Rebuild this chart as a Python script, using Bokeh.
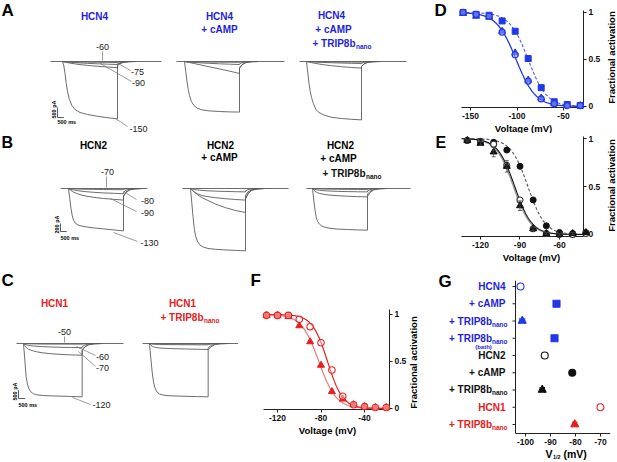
import numpy as np
from bokeh.plotting import figure
from bokeh.layouts import column, row
from bokeh.models import (Range1d, FixedTicker, PrintfTickFormatter, LinearAxis,
                          ColumnDataSource, Whisker, TeeHead)
from bokeh.core.properties import value
from bokeh.embed import file_html
from bokeh.resources import INLINE

FONT = "Liberation Sans"
BLUE = "#1f1fdc"
BLUE_M = "#2238e6"
RED = "#e62020"
RED_L = "#f07878"
BLACK = "#111111"
GRAY = "#9a9a9a"
TRACE = "#5c5c5c"
LEAD = "#707070"

# ===================== DATA =====================
# current traces: sample times (ms) after the start of the hyperpolarizing step
T_STEP = [0, 100, 200, 300, 400, 550, 750, 1000, 1400, 2000, 2800, 3600, 4400]
T_TAIL = [4401, 4600, 4900, 5300, 5900]

# A: HCN4 currents (pA) for steps to -60, -75, -90, -150 mV
HCN4_V = [-60, -75, -90, -150]
HCN4_CTRL = [
    [0, -3, -6, -9, -12, -15, -19, -23, -28, -34, -40, -45, -50],
    [0, -8, -15, -22, -28, -36, -45, -56, -72, -92, -115, -133, -150],
    [0, -15, -30, -45, -58, -75, -95, -120, -155, -195, -240, -275, -310],
    [0, -200, -600, -1100, -1500, -1900, -2200, -2400, -2550, -2650, -2740, -2810, -2870]]
HCN4_CTRL_TAIL = [[-35, -18, -6, -2, 0], [-120, -60, -22, -6, 0],
                  [-220, -110, -40, -10, 0], [-160, -80, -30, -8, 0]]
HCN4_CAMP = [
    [0, -2, -5, -7, -9, -12, -15, -19, -24, -29, -34, -37, -40],
    [0, -8, -15, -22, -28, -36, -45, -56, -72, -92, -115, -133, -150],
    [0, -13, -27, -40, -53, -73, -100, -133, -187, -267, -373, -480, -600],
    [0, -500, -1000, -1400, -1700, -2000, -2200, -2330, -2420, -2470, -2500, -2520, -2530]]
HCN4_CAMP_TAIL = [[-30, -15, -5, -1, 0], [-120, -60, -22, -6, 0],
                  [-350, -170, -60, -15, 0], [-300, -150, -50, -12, 0]]
HCN4_TRIP = [
    [0, -2, -4, -6, -7, -9, -11, -14, -18, -22, -26, -28, -30],
    [0, -5, -10, -15, -19, -24, -30, -38, -49, -62, -77, -90, -100],
    [0, -15, -30, -45, -58, -75, -98, -125, -165, -210, -260, -300, -330],
    [0, -550, -1100, -1500, -1800, -2100, -2400, -2550, -2680, -2790, -2850, -2890, -2920]]
HCN4_TRIP_TAIL = [[-25, -12, -4, -1, 0], [-80, -40, -15, -4, 0],
                  [-250, -120, -45, -12, 0], [-250, -120, -45, -12, 0]]

# B: HCN2 currents (pA) for steps to -70, -80, -90, -130 mV
HCN2_V = [-70, -80, -90, -130]
HCN2_CTRL = [
    [0, -3, -5, -7, -9, -11, -13, -16, -19, -22, -25, -28, -30],
    [0, -10, -20, -28, -35, -45, -55, -66, -80, -95, -110, -120, -130],
    [0, -25, -50, -70, -88, -110, -135, -160, -190, -220, -250, -270, -290],
    [0, -250, -500, -680, -790, -870, -910, -935, -960, -985, -1010, -1035, -1060]]
HCN2_CTRL_TAIL = [[-20, -10, -4, -1, 0], [-90, -45, -15, -4, 0],
                  [-180, -90, -30, -8, 0], [-200, -100, -35, -10, 0]]
HCN2_CAMP = [
    [0, -8, -16, -22, -28, -35, -42, -50, -58, -66, -74, -80, -85],
    [0, -30, -60, -85, -105, -130, -155, -180, -205, -230, -255, -275, -290],
    [0, -30, -60, -90, -115, -150, -195, -240, -300, -390, -480, -550, -600],
    [0, -350, -700, -1000, -1180, -1320, -1410, -1460, -1500, -1520, -1535, -1548, -1558]]
HCN2_CAMP_TAIL = [[-60, -30, -10, -3, 0], [-170, -85, -30, -8, 0],
                  [-250, -120, -40, -10, 0], [-260, -130, -45, -12, 0]]
HCN2_TRIP = [
    [0, -3, -5, -7, -8, -10, -12, -14, -17, -19, -22, -24, -25],
    [0, -12, -22, -30, -36, -43, -50, -57, -64, -71, -77, -82, -85],
    [0, -40, -70, -90, -105, -120, -135, -150, -165, -180, -193, -203, -210],
    [0, -290, -540, -720, -820, -890, -940, -970, -995, -1015, -1025, -1035, -1042]]
HCN2_TRIP_TAIL = [[-18, -9, -3, -1, 0], [-60, -30, -10, -3, 0],
                  [-140, -70, -25, -6, 0], [-200, -100, -35, -10, 0]]

# C: HCN1 currents (pA) for steps to -50, -60, -70, -120 mV
HCN1_V = [-50, -60, -70, -120]
HCN1_CTRL = [
    [0, -8, -13, -17, -20, -23, -26, -29, -32, -35, -37, -39, -40],
    [0, -40, -75, -100, -118, -135, -152, -168, -188, -208, -226, -240, -250],
    [0, -130, -230, -300, -350, -400, -450, -500, -555, -610, -655, -685, -700],
    [0, -1000, -2000, -2450, -2700, -2900, -3020, -3080, -3120, -3140, -3160, -3180, -3200]]
HCN1_CTRL_TAIL = [[-30, -15, -5, -1, 0], [-180, -90, -30, -8, 0],
                  [-400, -200, -70, -18, 0], [-400, -200, -70, -18, 0]]
HCN1_TRIP = [
    [0, -6, -10, -13, -15, -17, -19, -21, -23, -25, -27, -29, -30],
    [0, -20, -32, -40, -46, -52, -57, -62, -67, -71, -75, -78, -80],
    [0, -100, -160, -200, -225, -250, -270, -285, -300, -315, -330, -345, -360],
    [0, -900, -1700, -2300, -2650, -2900, -3030, -3090, -3130, -3150, -3170, -3185, -3200]]
HCN1_TRIP_TAIL = [[-22, -11, -4, -1, 0], [-60, -30, -10, -3, 0],
                  [-250, -120, -40, -10, 0], [-400, -200, -70, -18, 0]]

# D: HCN4 activation curves
D_V = [-158, -144, -130, -116, -102, -88, -74, -60, -46, -32]
D_CTRL = [1.00, 0.98, 0.96, 0.79, 0.55, 0.27, 0.08, 0.03, 0.01, 0.01]
D_TRIP = [0.99, 0.96, 0.95, 0.80, 0.57, 0.28, 0.09, 0.03, 0.01, 0.01]
D_CAMP = [1.00, 0.98, 0.97, 0.91, 0.80, 0.51, 0.20, 0.05, 0.02, 0.01]
D_FIT_VHALF = [-101, -88]
D_FIT_K = [10.5, 10.0]

# E: HCN2 activation curves
E_V = [-130, -120, -110, -100, -90, -80, -70, -60, -50, -40]
E_CTRL = [0.98, 0.96, 0.94, 0.72, 0.36, 0.06, 0.01, 0.00, 0.00, 0.01]
E_CAMP = [0.98, 0.97, 0.96, 0.88, 0.71, 0.36, 0.09, 0.02, 0.01, 0.02]
E_TRIP = [0.98, 0.95, 0.86, 0.71, 0.30, 0.06, 0.01, 0.00, 0.01, 0.02]
E_TRIP_ERR = [0.01, 0.02, 0.05, 0.06, 0.05, 0.02, 0.01, 0.01, 0.01, 0.01]
E_FIT_VHALF = [-94, -95, -84]
E_FIT_K = [6.5, 6.5, 6.5]

# F: HCN1 activation curves
F_V = [-130, -120, -110, -100, -90, -80, -70, -60, -50, -40, -30, -20]
F_CTRL = [0.99, 0.99, 0.99, 0.95, 0.87, 0.70, 0.41, 0.13, 0.04, 0.02, 0.01, 0.01]
F_TRIP = [0.99, 0.99, 0.98, 0.88, 0.71, 0.46, 0.18, 0.10, 0.04, 0.02, 0.01, 0.01]
F_FIT_VHALF = [-74, -82]
F_FIT_K = [7.0, 8.0]

# G: V1/2 summary (rows listed top to bottom)
G_LABELS = ["HCN4", "+ cAMP", "+ TRIP8b", "+ TRIP8b", "HCN2", "+ cAMP",
            "+ TRIP8b", "HCN1", "+ TRIP8b"]
G_SUB = ["", "", "nano", "nano", "", "", "nano", "", "nano"]
G_V12 = [-102.0, -87.6, -101.3, -88.4, -92.3, -81.3, -93.3, -70.0, -80.3]
G_ERR = [0.7, 0.8, 1.0, 0.9, 0.7, 0.7, 0.9, 0.8, 0.8]
G_MARK = ["circle", "square", "triangle", "square", "circle", "circle",
          "triangle", "circle", "triangle"]
G_FILLED = [False, True, True, True, False, True, True, False, True]
G_GROUP = ["HCN4", "HCN4", "HCN4", "HCN4", "HCN2", "HCN2", "HCN2", "HCN1", "HCN1"]
G_XTICKS = [-100, -90, -80, -70]

# ===================== HELPERS =====================
GROUP_COLOR = {"HCN4": BLUE, "HCN2": BLACK, "HCN1": RED}
GROUP_MCOLOR = {"HCN4": BLUE_M, "HCN2": BLACK, "HCN1": RED}
AXIS_COLOR = "#222222"


def txt(p, x, y, s, size, color="black", bold=True, align="center", angle=0.0,
        xo=0, yo=0, baseline="middle"):
    p.text(x=[x], y=[y], text=[s], text_font=value(FONT),
           text_font_size=f"{size}px",
           text_font_style="bold" if bold else "normal",
           text_color=color, text_align=align, text_baseline=baseline,
           angle=angle, x_offset=xo, y_offset=yo, level="overlay")


def boltz(v, vh, k):
    return 1.0 / (1.0 + np.exp((v - vh) / k))


def trace_panel(w, h, ox, oy, base_iy, ms_px, pa_px):
    p = figure(width=w, height=h, output_backend="svg", toolbar_location=None,
               x_range=Range1d(0, w * ms_px),
               y_range=Range1d(-(oy + h - base_iy) * pa_px, (base_iy - oy) * pa_px),
               x_axis_location=None, y_axis_location=None, min_border=0)
    p.outline_line_color = None
    p.grid.visible = False

    def X(ix):
        return (ix - ox) * ms_px

    def Y(iy):
        return (base_iy - iy) * pa_px
    return p, X, Y


def draw_block(p, onset, span, steps, tails):
    p.line(list(span), [0, 0], line_color=TRACE, line_width=0.9)
    t = [onset + v for v in T_STEP + T_TAIL]
    for s, tl in zip(steps, tails):
        p.line(t, s + tl, line_color=TRACE, line_width=0.9)


def scale_bar(p, X, Y, ix, iy, ms, pa, lab_ix, lab_iy, ms_iy):
    x0, y0 = X(ix), Y(iy)
    p.line([x0, x0, x0 + ms], [y0 + pa, y0, y0], line_color="#333333", line_width=0.8)
    txt(p, X(lab_ix), Y(lab_iy), f"{pa} pA", 5.5, angle=np.pi / 2)
    txt(p, x0, Y(ms_iy), f"{ms} ms", 5.5, align="left")


def leader(p, X, Y, pts):
    p.line([X(a) for a, b in pts], [Y(b) for a, b in pts], line_color=LEAD, line_width=0.7)


def sub_label(p, X, Y, right_ix, iy, main, sub, color, size=10, subsize=6.5):
    txt(p, X(right_ix), Y(iy), main, size, color, align="right")
    txt(p, X(right_ix + 0.5), Y(iy + 3), sub, subsize, color, align="left")


def style_axis(ax):
    ax.axis_line_color = AXIS_COLOR
    ax.axis_line_width = 1
    ax.major_tick_line_color = AXIS_COLOR
    ax.major_tick_in = 0
    ax.major_tick_out = 3
    ax.minor_tick_line_color = None
    ax.major_label_text_font = FONT
    ax.major_label_text_font_style = "bold"
    ax.major_label_text_font_size = "8.5px"
    ax.major_label_text_color = "#111111"
    ax.major_label_standoff = 2


def curve_panel(w, h, ox, oy, frame, xr, yr, y_loc="right"):
    fl, fr, ft, fb = frame
    p = figure(width=w, height=h, output_backend="svg", toolbar_location=None,
               x_range=Range1d(*xr), y_range=Range1d(*yr),
               x_axis_location=None, y_axis_location=None,
               min_border_left=fl - ox, min_border_right=ox + w - fr,
               min_border_top=ft - oy, min_border_bottom=oy + h - fb)
    p.grid.visible = False
    p.outline_line_color = None
    xa = LinearAxis()
    style_axis(xa)
    p.add_layout(xa, "below")
    ya = None
    if y_loc is not None:
        ya = LinearAxis()
        style_axis(ya)
        p.add_layout(ya, y_loc)

    def X(ix):
        return xr[0] + (ix - fl) / (fr - fl) * (xr[1] - xr[0])

    def Y(iy):
        return yr[0] + (fb - iy) / (fb - ft) * (yr[1] - yr[0])
    return p, X, Y, xa, ya


def frac_axes(xa, ya, xticks):
    xa.ticker = FixedTicker(ticks=xticks)
    xa.formatter = PrintfTickFormatter(format="%d")
    ya.ticker = FixedTicker(ticks=[0, 0.5, 1])
    ya.major_label_overrides = {0: "0", 0.5: "0.5", 1: "1"}


# ===================== PANEL A =====================
pA, XA, YA = trace_panel(418, 133, 0, 0, 61, 80, 50)
A_ONSET = [4960, 14720, 24480]
A_SPAN = [(4000, 12880), (14080, 22720), (23920, 32480)]
draw_block(pA, A_ONSET[0], A_SPAN[0], HCN4_CTRL, HCN4_CTRL_TAIL)
draw_block(pA, A_ONSET[1], A_SPAN[1], HCN4_CAMP, HCN4_CAMP_TAIL)
draw_block(pA, A_ONSET[2], A_SPAN[2], HCN4_TRIP, HCN4_TRIP_TAIL)
txt(pA, XA(1), YA(10), "A", 17, align="left")
txt(pA, XA(94), YA(16), "HCN4", 10, BLUE)
txt(pA, XA(219), YA(16), "HCN4", 10, BLUE)
txt(pA, XA(219), YA(29), "+ cAMP", 10, BLUE)
txt(pA, XA(331), YA(15), "HCN4", 10, BLUE)
txt(pA, XA(333), YA(29), "+ cAMP", 10, BLUE)
sub_label(pA, XA, YA, 355, 43, "+ TRIP8b", "nano", BLUE)
for lab, ix, iy in zip(HCN4_V, [102, 137, 138, 138], [46, 71, 82, 128]):
    txt(pA, XA(ix), YA(iy), str(lab), 9, "#222222", bold=False)
leader(pA, XA, YA, [(102, 51), (102, 60)])
leader(pA, XA, YA, [(116, 62), (130, 70)])
leader(pA, XA, YA, [(100, 63), (131, 81)])
leader(pA, XA, YA, [(115, 118), (127, 126)])
scale_bar(pA, XA, YA, 57, 117, 500, 500, 53, 109, 121)

# ===================== PANEL B =====================
pB, XB, YB = trace_panel(418, 135, 0, 133, 188, 80, 25)
B_ONSET = [5440, 15200, 24960]
B_SPAN = [(4800, 11760), (14560, 23040), (24480, 32800)]
draw_block(pB, B_ONSET[0], B_SPAN[0], HCN2_CTRL, HCN2_CTRL_TAIL)
draw_block(pB, B_ONSET[1], B_SPAN[1], HCN2_CAMP, HCN2_CAMP_TAIL)
draw_block(pB, B_ONSET[2], B_SPAN[2], HCN2_TRIP, HCN2_TRIP_TAIL)
txt(pB, XB(1), YB(142), "B", 16, align="left")
txt(pB, XB(93), YB(145), "HCN2", 10)
txt(pB, XB(220), YB(145), "HCN2", 10)
txt(pB, XB(219), YB(157), "+ cAMP", 10)
txt(pB, XB(340), YB(145), "HCN2", 10)
txt(pB, XB(338), YB(158), "+ cAMP", 10)
sub_label(pB, XB, YB, 365, 173, "+ TRIP8b", "nano", BLACK)
for lab, ix, iy in zip(HCN2_V, [107, 147, 147, 149], [171, 200, 212, 242]):
    txt(pB, XB(ix), YB(iy), str(lab), 9, "#222222", bold=False)
leader(pB, XB, YB, [(106, 176), (106, 187)])
leader(pB, XB, YB, [(123, 191), (136, 199)])
leader(pB, XB, YB, [(110, 198), (136, 211)])
leader(pB, XB, YB, [(113, 232), (137, 241)])
scale_bar(pB, XB, YB, 60, 231, 500, 200, 56, 224, 237)

# ===================== PANEL C =====================
pC, XC, YC = trace_panel(238, 194, 0, 268, 343, 75, 60)
C_ONSET = [1725, 11175]
C_SPAN = [(1200, 9225), (10650, 18600)]
draw_block(pC, C_ONSET[0], C_SPAN[0], HCN1_CTRL, HCN1_CTRL_TAIL)
draw_block(pC, C_ONSET[1], C_SPAN[1], HCN1_TRIP, HCN1_TRIP_TAIL)
txt(pC, XC(1), YC(280), "C", 17, align="left")
txt(pC, XC(54), YC(303), "HCN1", 10, RED)
txt(pC, XC(182), YC(303), "HCN1", 10, RED)
sub_label(pC, XC, YC, 203, 317, "+ TRIP8b", "nano", RED)
for lab, ix, iy in zip(HCN1_V, [64, 102, 102, 101], [331, 356, 367, 404]):
    txt(pC, XC(ix), YC(iy), str(lab), 9, "#222222", bold=False)
leader(pC, XC, YC, [(64, 336), (64, 342)])
leader(pC, XC, YC, [(76, 346), (95, 355)])
leader(pC, XC, YC, [(78, 351), (95, 366)])
leader(pC, XC, YC, [(72, 397), (90, 404)])
scale_bar(pC, XC, YC, 18, 398, 500, 500, 14, 391, 404)

# ===================== PANEL D =====================
pD, XD, YD, xaD, yaD = curve_panel(199, 133, 418, 0, (461, 583, 10, 107),
                                   (-159.7, -28.5), (-0.011, 1.021))
frac_axes(xaD, yaD, [-150, -100, -50])
vv = np.linspace(-159.7, -28.5, 200)
pD.line(vv, boltz(vv, D_FIT_VHALF[1], D_FIT_K[1]), line_color="#4a5cf0", line_width=1.1, line_dash="3 2")
pD.line(vv, boltz(vv, D_FIT_VHALF[0], D_FIT_K[0]), line_color=BLUE_M, line_width=1.3)
pD.scatter(D_V, D_CAMP, marker="square", size=6, fill_color=BLUE_M, line_color=BLUE_M, level="overlay")
pD.scatter(D_V, D_TRIP, marker="triangle", size=7, fill_color=BLUE_M, line_color=BLUE_M, level="overlay")
pD.scatter(D_V, D_CTRL, marker="circle", size=6, fill_color="white", fill_alpha=0.3,
           line_color=BLUE_M, line_width=1.2, level="overlay")
txt(pD, XD(434), YD(10), "D", 17, align="left")
txt(pD, XD(523), YD(128), "Voltage (mV)", 9.5)
txt(pD, XD(611), YD(57), "Fractional activation", 9.5, angle=np.pi / 2)

# ===================== PANEL E =====================
pE, XE, YE, xaE, yaE = curve_panel(199, 135, 418, 133, (461, 583, 136, 236),
                                   (-134.4, -41.8), (-0.021, 1.021))
frac_axes(xaE, yaE, [-120, -90, -60])
vv = np.linspace(-134.4, -41.8, 200)
pE.line(vv, boltz(vv, E_FIT_VHALF[2], E_FIT_K[2]), line_color="#555555", line_width=1.1, line_dash="3 2")
pE.line(vv, boltz(vv, E_FIT_VHALF[1], E_FIT_K[1]), line_color=GRAY, line_width=1.3)
pE.line(vv, boltz(vv, E_FIT_VHALF[0], E_FIT_K[0]), line_color=BLACK, line_width=1.1)
src = ColumnDataSource(dict(x=E_V, lo=[a - b for a, b in zip(E_TRIP, E_TRIP_ERR)],
                            hi=[a + b for a, b in zip(E_TRIP, E_TRIP_ERR)]))
pE.add_layout(Whisker(source=src, base="x", lower="lo", upper="hi", line_color="#444444",
                      line_width=0.8, level="overlay",
                      lower_head=TeeHead(size=4, line_color="#444444", line_width=0.8),
                      upper_head=TeeHead(size=4, line_color="#444444", line_width=0.8)))
pE.scatter(E_V, E_CAMP, marker="circle", size=6, fill_color=BLACK, line_color=BLACK, level="overlay")
pE.scatter(E_V, E_CTRL, marker="circle", size=6, fill_color="white", line_color="#333333",
           line_width=1.1, level="overlay")
pE.scatter(E_V, E_TRIP, marker="triangle", size=7, fill_color=BLACK, line_color=BLACK, level="overlay")
txt(pE, XE(435), YE(142), "E", 16, align="left")
txt(pE, XE(531), YE(257), "Voltage (mV)", 9.5)
txt(pE, XE(611), YE(185), "Fractional activation", 9.5, angle=np.pi / 2)

# ===================== PANEL F =====================
pF, XF, YF, xaF, yaF = curve_panel(180, 194, 238, 268, (263, 389, 309, 409),
                                   (-132.9, -17.0), (-0.011, 1.053))
frac_axes(xaF, yaF, [-120, -80, -40])
vv = np.linspace(-132.9, -17.0, 200)
pF.line(vv, boltz(vv, F_FIT_VHALF[1], F_FIT_K[1]), line_color=RED_L, line_width=1.2)
pF.line(vv, boltz(vv, F_FIT_VHALF[0], F_FIT_K[0]), line_color=RED, line_width=1.2)
pF.scatter(F_V, F_TRIP, marker="triangle", size=7, fill_color=RED, line_color=RED, level="overlay")
pF.scatter(F_V, F_CTRL, marker="circle", size=6.5, fill_color="white", fill_alpha=0.4,
           line_color=RED, line_width=1.1, level="overlay")
txt(pF, XF(250), YF(280), "F", 17, align="left")
txt(pF, XF(327), YF(430), "Voltage (mV)", 9.5)
txt(pF, XF(413), YF(362), "Fractional activation", 9.5, angle=np.pi / 2)

# ===================== PANEL G =====================
n_g = len(G_LABELS)
rows = list(range(n_g))
g_y = [n_g - 1 - i for i in rows]          # top row has the largest y value
g_xr = (-105.6, -66)
g_yr = (-0.754, n_g - 1 + 0.348)
G_AXIS_V = -104.0                           # voltage where the y axis line sits
G_AXIS_ROW = -0.522                         # row coordinate where the x axis line sits
pG, XG, YG, xaG, _ = curve_panel(199, 194, 418, 268, (511, 610, 280, 437), g_xr, g_yr,
                                 y_loc=None)
xaG.ticker = FixedTicker(ticks=G_XTICKS)
xaG.formatter = PrintfTickFormatter(format="%d")
xaG.axis_line_color = None
xaG.major_tick_line_color = None
xaG.major_tick_out = 0
xaG.major_label_standoff = 1
# axis frame of the summary plot
pG.line([G_AXIS_V, G_AXIS_V, g_xr[1]], [g_yr[1], G_AXIS_ROW, G_AXIS_ROW],
        line_color=AXIS_COLOR, line_width=1)
pG.segment(x0=G_XTICKS, x1=G_XTICKS, y0=[G_AXIS_ROW] * len(G_XTICKS),
           y1=[G_AXIS_ROW - 0.174] * len(G_XTICKS), line_color=AXIS_COLOR, line_width=1)
pG.segment(x0=[G_AXIS_V] * n_g, x1=[G_AXIS_V - 1.2] * n_g, y0=g_y, y1=g_y,
           line_color=AXIS_COLOR, line_width=1)
gsrc = ColumnDataSource(dict(
    y=g_y, x=G_V12, marker=G_MARK, line=[GROUP_MCOLOR[g] for g in G_GROUP],
    size=[8 if m == "triangle" else 7 for m in G_MARK],
    fill=[GROUP_MCOLOR[g] if f else "white" for g, f in zip(G_GROUP, G_FILLED)]))
for i in rows:
    c = GROUP_MCOLOR[G_GROUP[i]]
    y = g_y[i]
    lo, hi = G_V12[i] - G_ERR[i], G_V12[i] + G_ERR[i]
    pG.segment(x0=[lo, lo, hi], x1=[hi, lo, hi], y0=[y, y - 0.17, y - 0.17],
               y1=[y, y + 0.17, y + 0.17], line_color=c, line_width=1)
pG.scatter("x", "y", source=gsrc, marker="marker", size="size", fill_color="fill",
           line_color="line", line_width=1.1)
for i in rows:
    c = GROUP_COLOR[G_GROUP[i]]
    y = g_y[i]
    if G_SUB[i]:
        txt(pG, G_AXIS_V, y, G_LABELS[i], 10, c, align="right", xo=-23.5)
        txt(pG, G_AXIS_V, y, G_SUB[i], 6.5, c, align="right", xo=-8, yo=3)
    else:
        txt(pG, G_AXIS_V, y, G_LABELS[i], 10, c, align="right", xo=-10)
txt(pG, G_AXIS_V, g_y[3], "(bath)", 6, BLUE, xo=-32, yo=9)
txt(pG, XG(438), YG(281), "G", 17, align="left")
txt(pG, XG(552), YG(453), "V", 10.5, align="right")
txt(pG, XG(552.5), YG(456), "1/2", 5.5, align="left")
txt(pG, XG(563), YG(453), "(mV)", 10.5, align="left")

layout = column(
    row(column(column(pA), column(pB)), column(column(pD), column(pE))),
    row(column(pC), column(pF), column(pG)))
open("out.html", "w").write(file_html(layout, INLINE, title="HCN TRIP8b figure"))
